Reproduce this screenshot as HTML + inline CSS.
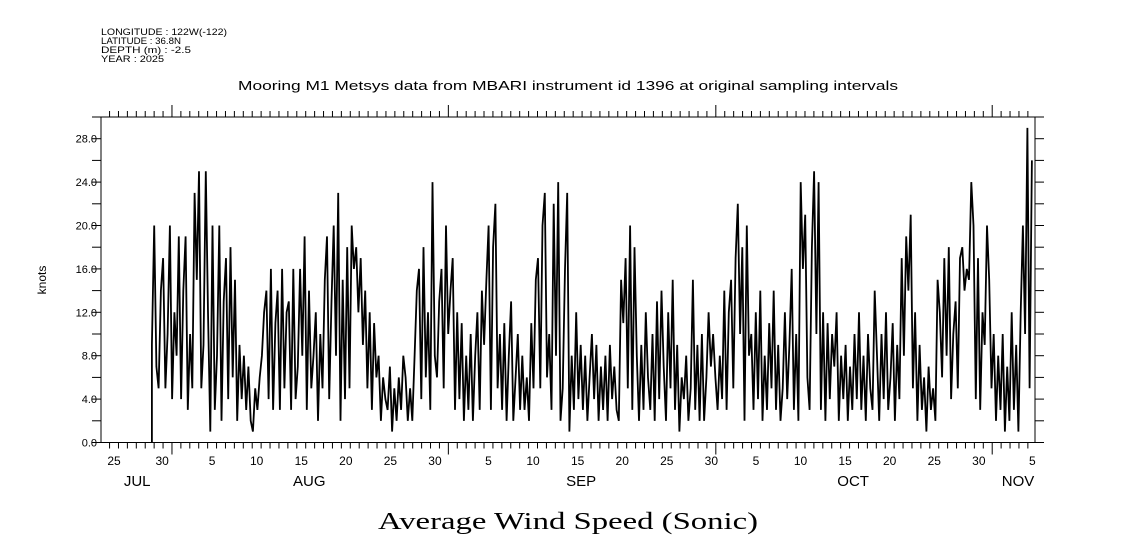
<!DOCTYPE html>
<html><head><meta charset="utf-8"><style>
html,body{margin:0;padding:0;background:#fff;}
svg{display:block;}
text{font-family:"Liberation Sans",sans-serif;fill:#000;}
</style></head><body>
<svg id="chart" width="1121" height="560" viewBox="0 0 1121 560" xmlns="http://www.w3.org/2000/svg">
<g font-size="9">
<text x="101" y="35" textLength="126" lengthAdjust="spacingAndGlyphs">LONGITUDE : 122W(-122)</text>
<text x="101" y="44" textLength="80" lengthAdjust="spacingAndGlyphs">LATITUDE : 36.8N</text>
<text x="101" y="53" textLength="90" lengthAdjust="spacingAndGlyphs">DEPTH (m) : -2.5</text>
<text x="101" y="62" textLength="63" lengthAdjust="spacingAndGlyphs">YEAR : 2025</text>
</g>
<text x="238" y="90" font-size="13" textLength="660" lengthAdjust="spacingAndGlyphs">Mooring M1 Metsys data from MBARI instrument id 1396 at original sampling intervals</text>
<text x="378" y="529" font-size="24" textLength="380" lengthAdjust="spacingAndGlyphs" style="font-family:'Liberation Serif',serif">Average Wind Speed (Sonic)</text>
<text x="46" y="280" font-size="12" text-anchor="middle" transform="rotate(-90 46 280)">knots</text>
<rect x="101" y="117" width="934" height="325.5" fill="none" stroke="#000" stroke-width="1"/>
<g id="axes"></g>
<g id="series"></g>
</svg>
<script>
const yTickValues=[0,4,8,12,16,20,24,28];
const yTickLabels=["0.0","4.0","8.0","12.0","16.0","20.0","24.0","28.0"];
const dayLabels=[["25",24],["30",29.4],["5",35],["10",40],["15",45],["20",50],["25",55],["30",60],["5",66],["10",71],["15",76],["20",81],["25",86],["30",91],["5",96],["10",101],["15",106],["20",111],["25",116],["30",121],["5",127]];
const monthLabels=[["JUL",27.1],["AUG",46.4],["SEP",76.9],["OCT",107.4],["NOV",125.9]];
const monthStarts=[31,62,92,123];
const startDay=28.75; // Jul 29 18:00 (days since Jul 1)
const endDay=127.45;
const windKnots=[9,
20,7,5,14, 17,5,10,20, 4,12,8,19, 4,14,19,3, 10,5,23,15, 25,5,9,25, 12,1,20,3, 8,20,2,13, 17,4,18,6, 15,2,9,4,
8,3,7,2, 1,5,3,6, 8,12,14,4, 16,3,11,14, 3,16,5,12, 13,3,16,4, 7,16,8,19, 3,14,5,8, 12,2,10,5, 15,19,4,13,
20,8,23,2, 15,4,18,5, 20,16,18,12, 17,9,14,5, 12,3,11,6, 8,2,6,4, 3,7,1,5, 2,6,3,8, 6,2,5,2, 8,14,16,4,
18,6,12,3, 24,8,6,13, 16,5,20,10, 14,17,3,12, 4,11,2,8, 3,10,2,8, 12,3,14,9, 15,20,3,18, 22,5,10,3, 11,2,8,13,
2,6,10,3, 8,3,6,2, 11,5,15,17, 5,20,23,6, 10,3,22,8, 24,2,5,16, 23,1,8,3, 12,4,9,3, 8,2,6,10, 4,9,2,7,
3,8,2,9, 4,7,3,2, 15,11,17,5, 20,3,18,8, 2,9,3,12, 6,3,10,2, 13,4,14,7, 2,12,5,15, 3,9,1,6, 4,8,2,5,
15,3,9,2, 10,2,6,12, 7,10,6,3, 8,4,14,3, 12,15,5,17, 22,10,18,2, 20,8,10,3, 12,4,14,2, 8,3,11,5, 14,3,9,2,
5,12,4,9, 16,3,10,2, 24,16,21,6, 3,18,25,10, 24,3,12,2, 11,4,10,7, 12,2,8,4, 9,2,7,3, 10,4,12,3, 8,2,10,5,
3,14,8,2, 10,4,12,3, 6,11,2,9, 4,17,8,19, 14,21,5,12, 2,9,3,6, 1,7,3,5, 2,15,12,6, 17,8,18,4, 10,13,5,17,
18,14,16,15, 24,20,4,17, 3,12,9,20, 15,5,10,2, 8,3,10,1, 7,2,12,3, 9,1,12,20, 10,29,5,26];
const NS="http://www.w3.org/2000/svg";
const X0=101,X1=1035,Y0=442.5,Y1=117,T0=23.04,T1=127.8,V1=30;
function xs(t){return X0+(t-T0)/(T1-T0)*(X1-X0);}
function ys(v){return Y0-v/V1*(Y0-Y1);}
const axes=document.getElementById('axes');
function line(x1,y1,x2,y2,name){const l=document.createElementNS(NS,'line');l.setAttribute('x1',x1);l.setAttribute('y1',y1);l.setAttribute('x2',x2);l.setAttribute('y2',y2);l.setAttribute('stroke','#000');l.setAttribute('stroke-width','1');


axes.appendChild(l);}
function txt(x,y,s,anchor,size,name){const t=document.createElementNS(NS,'text');t.setAttribute('x',x);t.setAttribute('y',y);t.setAttribute('text-anchor',anchor);t.setAttribute('font-size',size);t.textContent=s;


axes.appendChild(t);}
for(let v=0;v<=30;v+=2){const y=ys(v);line(X0-9,y,X0,y,'y-tick');line(X1,y,X1+9,y,'y-tick-right');}
yTickValues.forEach((v,i)=>txt(X0-4,ys(v)+4,yTickLabels[i],'end',11,'y-tick-label'));
for(let d=24;d<=127;d++){const x=xs(d);const major=monthStarts.includes(d);line(x,Y0,x,Y0+(major?12:6),'x-tick');line(x,Y1,x,Y1-(major?12:6),'x-tick-top');}
dayLabels.forEach(([s,d])=>txt(xs(d+0.5),465,s,'middle',12,'x-day-label'));
monthLabels.forEach(([s,d])=>txt(xs(d),486,s,'middle',15,'x-month-label'));
const stepDays=(endDay-startDay)/(windKnots.length-1);
let dstr='';
windKnots.forEach((v,i)=>{const t=startDay+i*stepDays;dstr+='L'+xs(t).toFixed(1)+','+ys(v).toFixed(1);});
const p=document.createElementNS(NS,'path');
p.setAttribute('d','M'+xs(startDay).toFixed(1)+','+Y0+dstr);
p.setAttribute('fill','none');p.setAttribute('stroke','#000');p.setAttribute('stroke-width','1.8');


document.getElementById('series').appendChild(p);
</script>
</body></html>
